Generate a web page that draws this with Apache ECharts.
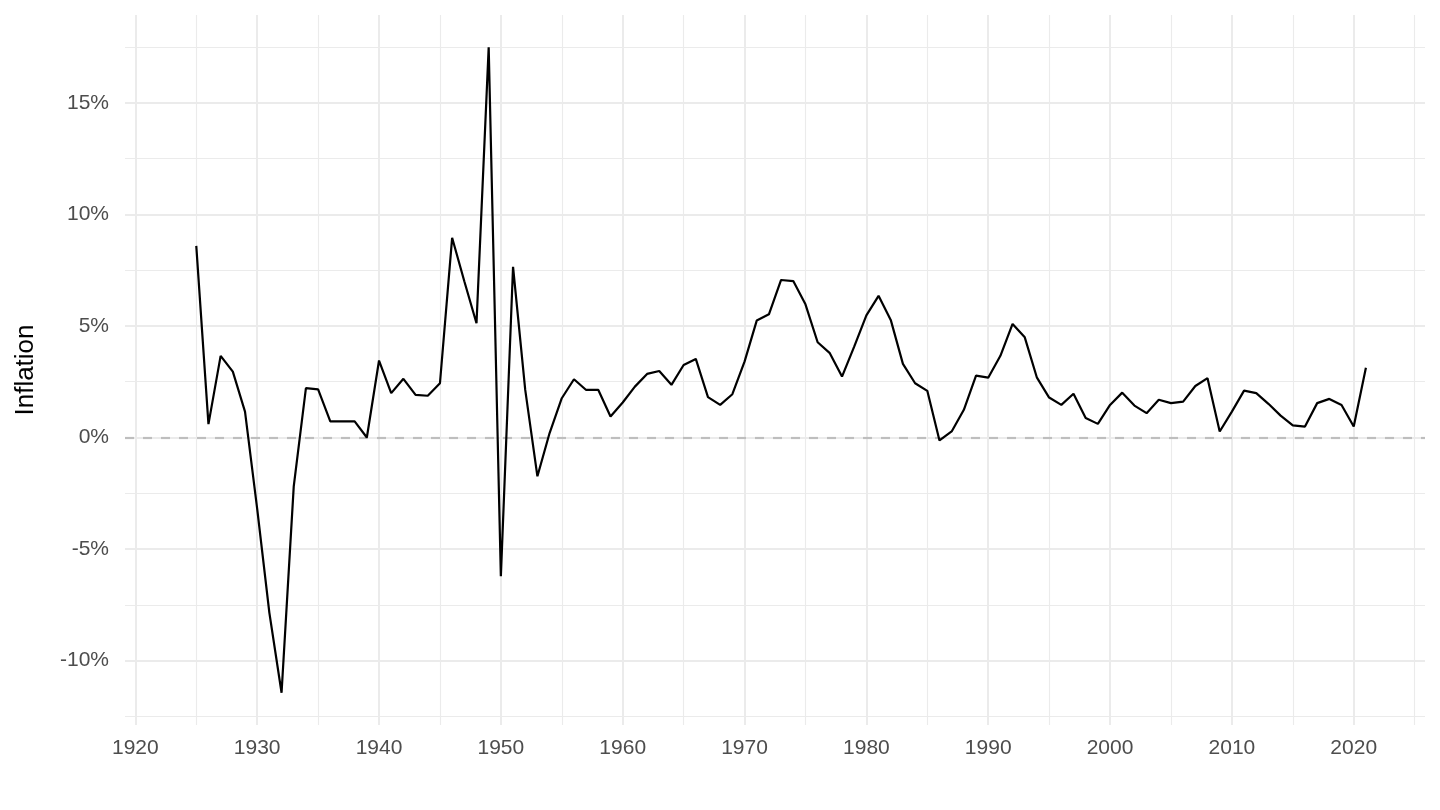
<!DOCTYPE html>
<html>
<head>
<meta charset="utf-8">
<script src="https://cdn.jsdelivr.net/npm/echarts@6/dist/echarts.min.js"></script>
<style>
html,body{margin:0;padding:0;background:#fff;}
#chart{width:1440px;height:810px;}
</style>
</head>
<body>
<div id="chart"></div>
<script>
const years = [1925,1926,1927,1928,1929,1930,1931,1932,1933,1934,1935,1936,1937,1938,1939,1940,1941,1942,1943,1944,1945,1946,1947,1948,1949,1950,1951,1952,1953,1954,1955,1956,1957,1958,1959,1960,1961,1962,1963,1964,1965,1966,1967,1968,1969,1970,1971,1972,1973,1974,1975,1976,1977,1978,1979,1980,1981,1982,1983,1984,1985,1986,1987,1988,1989,1990,1991,1992,1993,1994,1995,1996,1997,1998,1999,2000,2001,2002,2003,2004,2005,2006,2007,2008,2009,2010,2011,2012,2013,2014,2015,2016,2017,2018,2019,2020,2021];
const inflation = [8.59,0.60,3.66,2.95,1.16,-3.2,-7.86,-11.44,-2.19,2.21,2.16,0.72,0.72,0.72,0.0,3.45,1.99,2.63,1.91,1.87,2.43,8.95,7.0,5.12,17.49,-6.22,7.65,2.13,-1.74,0.20,1.76,2.61,2.13,2.13,0.94,1.57,2.28,2.85,2.98,2.36,3.25,3.52,1.81,1.46,1.94,3.40,5.24,5.52,7.06,7.01,5.97,4.27,3.78,2.73,4.07,5.47,6.35,5.27,3.30,2.43,2.09,-0.13,0.27,1.24,2.77,2.68,3.66,5.09,4.49,2.68,1.79,1.46,1.96,0.87,0.61,1.46,2.01,1.43,1.09,1.69,1.54,1.61,2.31,2.66,0.27,1.16,2.10,1.99,1.51,0.98,0.54,0.49,1.54,1.73,1.46,0.49,3.13];
const xDomain = [1924, 2021];
const xMajorTicks = [1920,1930,1940,1950,1960,1970,1980,1990,2000,2010,2020];
const xMinorTicks = [1925,1935,1945,1955,1965,1975,1985,1995,2005,2015,2025];
const yMajorTicks = [-10,-5,0,5,10,15];
const yMinorTicks = [-12.5,-7.5,-2.5,2.5,7.5,12.5,17.5];
const yTitle = 'Inflation';

const xPad = (xDomain[1]-xDomain[0])*0.05;
const xMin = xDomain[0]-xPad, xMax = xDomain[1]+xPad;
const yLo = Math.min(...inflation), yHi = Math.max(...inflation);
const yPad = (yHi-yLo)*0.05;
const yMin = yLo-yPad, yMax = yHi+yPad;

const FONT = '"Liberation Sans", Arial, sans-serif';
const majorLine = {show:true, lineStyle:{color:'#EBEBEB', width:2}};
const minorLine = {show:true, lineStyle:{color:'#EBEBEB', width:1.1}};

const chart = echarts.init(document.getElementById('chart'), null, {renderer:'canvas'});
chart.setOption({
  backgroundColor:'#ffffff',
  animation:false,
  grid:{left:125, right:15, top:15, bottom:85, containLabel:false},
  xAxis:[
    {type:'value', min:xMin, max:xMax, position:'bottom',
     axisLine:{show:false}, axisTick:{show:false, customValues:xMajorTicks},
     axisLabel:{show:true, customValues:xMajorTicks, color:'#4D4D4D', fontSize:21, fontFamily:FONT, margin:13,
                formatter:v=>String(v)},
     splitLine:majorLine},
    {type:'value', min:xMin, max:xMax, position:'top',
     axisLine:{show:false}, axisTick:{show:false, customValues:xMinorTicks},
     axisLabel:{show:false, customValues:xMinorTicks},
     splitLine:minorLine}
  ],
  yAxis:[
    {type:'value', min:yMin, max:yMax, position:'left',
     name:yTitle, nameLocation:'middle', nameGap:86, nameRotate:90,
     nameTextStyle:{color:'#000', fontSize:26, fontFamily:FONT},
     axisLine:{show:false}, axisTick:{show:false, customValues:yMajorTicks},
     axisLabel:{show:true, customValues:yMajorTicks, color:'#4D4D4D', fontSize:21, fontFamily:FONT, margin:16,
                formatter:v=>v+'%'},
     splitLine:majorLine},
    {type:'value', min:yMin, max:yMax, position:'right',
     axisLine:{show:false}, axisTick:{show:false, customValues:yMinorTicks},
     axisLabel:{show:false, customValues:yMinorTicks},
     splitLine:minorLine}
  ],
  series:[
    {type:'line', data:[], xAxisIndex:0, yAxisIndex:0, z:1, silent:true,
     markLine:{silent:true, symbol:['none','none'], label:{show:false}, z:1,
               lineStyle:{color:'#BEBEBE', width:2.2, type:[9,9]},
               data:[{yAxis:0}]}},
    {type:'line', data:years.map((y,i)=>[y, inflation[i]]), xAxisIndex:0, yAxisIndex:0, z:3,
     showSymbol:false, symbol:'none', lineStyle:{color:'#000', width:2.2}}
  ]
});
</script>
</body>
</html>
